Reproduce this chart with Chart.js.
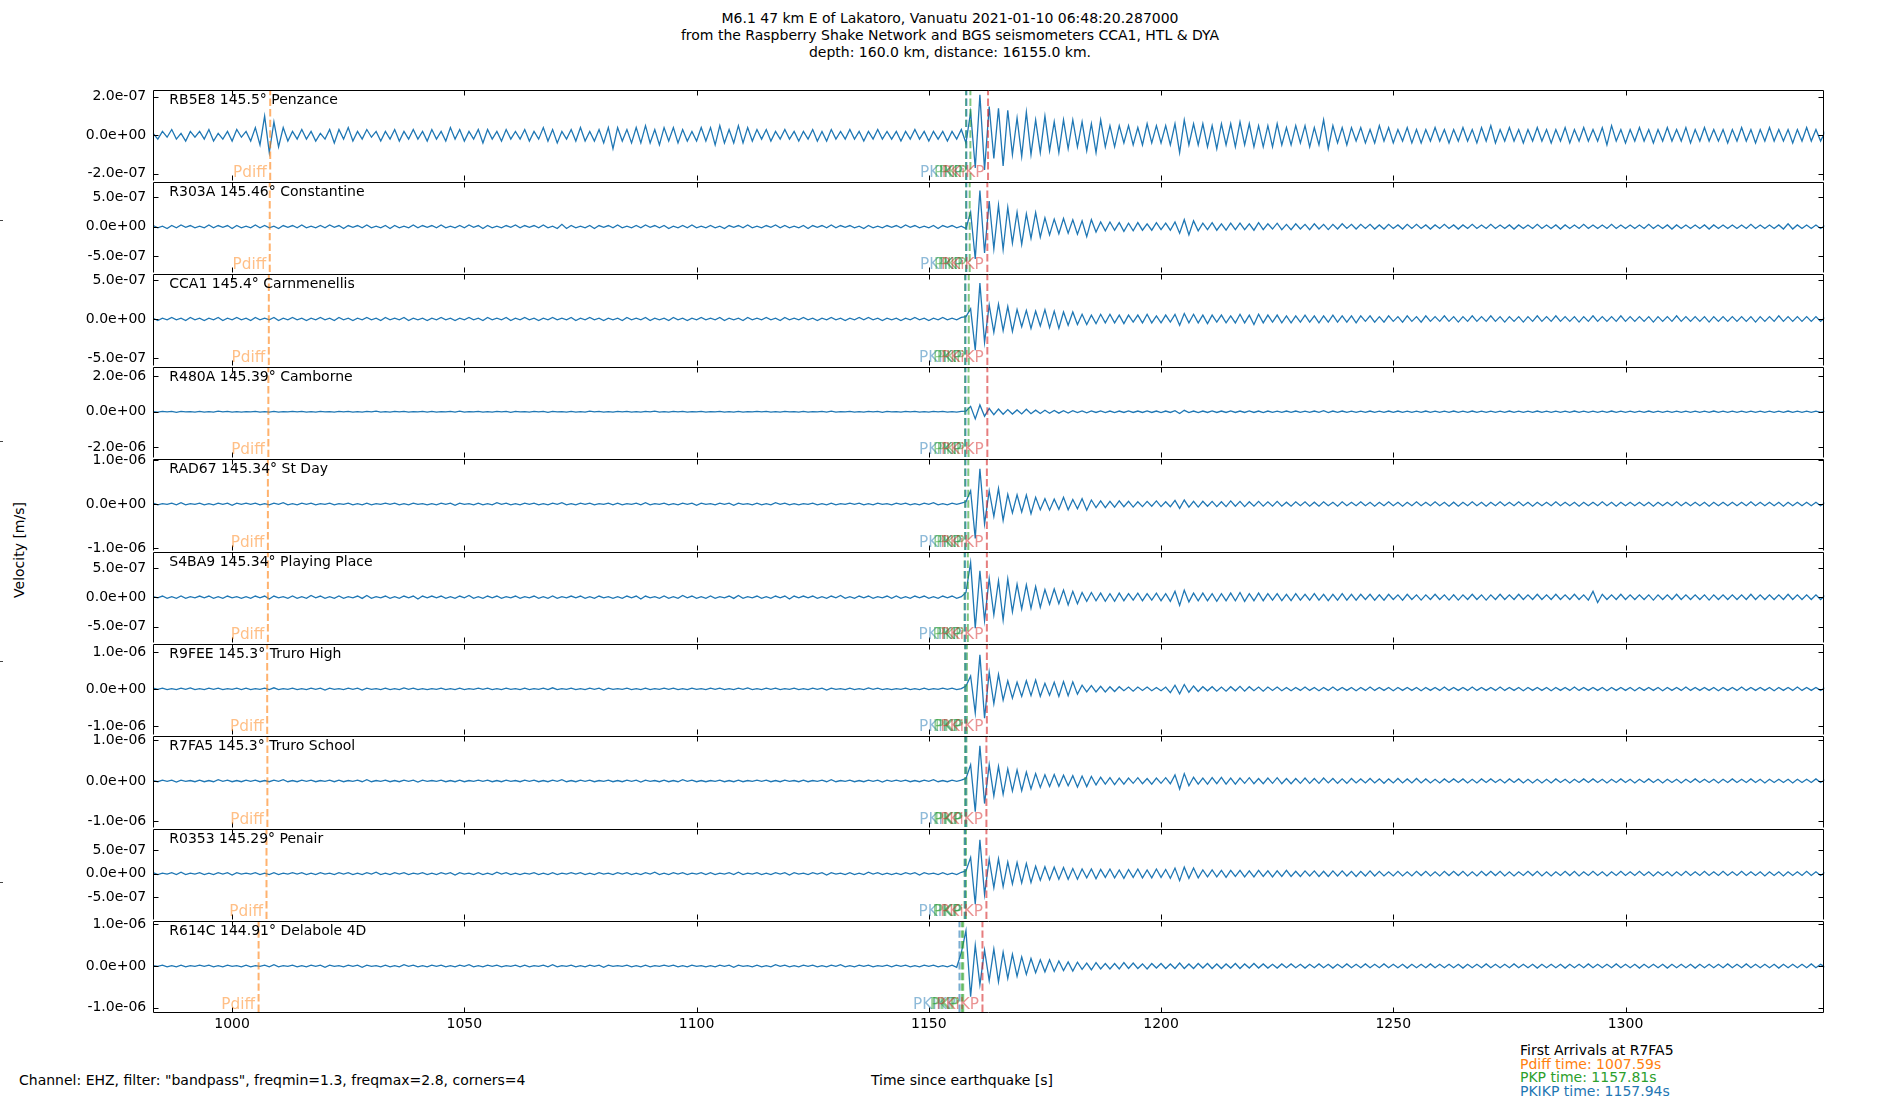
<!DOCTYPE html>
<html>
<head>
<meta charset="utf-8">
<title>Seismograms R7FA5 section</title>
<script src="https://cdn.jsdelivr.net/npm/chart.js@4.4.0/dist/chart.umd.min.js"></script>
<style>
  html, body { margin: 0; padding: 0; background: #fff; }
  body { width: 1900px; height: 1100px; position: relative; overflow: hidden;
         font-family: 'DejaVu Sans', sans-serif; font-size: 14px; color: #000; }
  .panel { position: absolute; left: 0; width: 1900px; }
  .txt { position: absolute; white-space: pre; line-height: 17px; }
  .mark { position: absolute; left: 0; width: 3px; height: 1px; background: #444; }
</style>
</head>
<body>
<div class="txt" style="left:0;width:1900px;top:10px;text-align:center;">M6.1 47 km E of Lakatoro, Vanuatu 2021-01-10 06:48:20.287000
from the Raspberry Shake Network and BGS seismometers CCA1, HTL &amp; DYA
depth: 160.0 km, distance: 16155.0 km.</div>
<div class="txt" style="left:19px;top:1072px;">Channel: EHZ, filter: "bandpass", freqmin=1.3, freqmax=2.8, corners=4</div>
<div class="txt" style="left:762px;width:400px;top:1072px;text-align:center;">Time since earthquake [s]</div>
<div class="txt" style="left:19px;top:550px;transform:translate(-50%,-50%) rotate(-90deg);">Velocity [m/s]</div>
<div id="arrivals" class="txt" style="left:1520px;top:1044px;line-height:13.7px;"></div>
<div class="mark" style="top:220px"></div>
<div class="mark" style="top:441px"></div>
<div class="mark" style="top:661px"></div>
<div class="mark" style="top:882px"></div>

<script>
// samples: 1 s apart from 983 s, values in units of 1e-8 m/s
const sampleStart = 983;
const sampleStep = 1;
const velUnit = 1e-8;

const stationLabels = [
    'RB5E8 145.5° Penzance', 'R303A 145.46° Constantine', 'CCA1 145.4° Carnmenellis',
    'R480A 145.39° Camborne', 'RAD67 145.34° St Day', 'S4BA9 145.34° Playing Place',
    'R9FEE 145.3° Truro High', 'R7FA5 145.3° Truro School', 'R0353 145.29° Penair',
    'R614C 144.91° Delabole 4D',
];

const velRB5E8 = [
    1,-2,2,-1,3,-2,1,-3,2,-1,2,-2,3,-3,1,-2,2,-3,3,-1,
    2,-3,4,-5,10,-9,7,-6,4,-3,2,-2,3,-2,2,-3,1,-2,3,-4,
    3,-2,4,-3,2,-2,3,-1,2,-3,2,-2,3,-3,2,-2,3,-2,2,-3,
    3,-2,2,-3,4,-2,3,-3,2,-2,3,-4,3,-2,2,-3,3,-2,2,-2,
    3,-3,2,-2,4,-3,3,-4,2,-2,3,-3,4,-3,2,-3,3,-4,4,-7,
    4,-3,3,-4,4,-4,5,-4,3,-5,4,-3,4,-4,3,-3,2,-3,4,-3,
    4,-5,5,-4,3,-4,5,-4,4,-3,3,-2,3,-3,2,-2,3,-2,2,-3,
    2,-2,3,-3,2,-3,3,-2,2,-2,3,-2,2,-3,2,-2,3,-2,2,-2,
    2,-3,2,-2,3,-2,2,-3,2,-2,2,-3,2,-2,3,-4,12,-17,21,-18,
    15,-12,14,-16,13,-10,9,-11,12,-10,8,-9,10,-8,7,-9,8,-7,8,-6,
    7,-8,6,-9,8,-6,5,-6,5,-4,5,-5,4,-5,6,-4,5,-4,5,-5,
    6,-9,8,-5,6,-5,6,-6,5,-7,6,-5,6,-6,7,-5,6,-6,5,-6,
    5,-6,6,-5,4,-5,5,-4,5,-6,4,-5,8,-7,5,-4,4,-5,4,-3,
    4,-4,3,-4,5,-3,4,-4,3,-3,4,-4,3,-4,3,-3,4,-3,3,-4,
    3,-3,4,-3,3,-4,4,-3,5,-4,3,-3,4,-3,3,-4,3,-3,4,-3,
    3,-4,3,-3,4,-4,3,-3,4,-3,3,-3,4,-5,5,-3,3,-4,3,-3,
    4,-3,3,-4,3,-3,4,-3,3,-3,4,-4,3,-3,4,-3,3,-3,3,-4,
    3,-3,4,-3,3,-4,3,-3,4,-3,3,-3,3,-4,3,-3,4,-3,3,-3,
    2,
];
const velR303A = [
    2,-2,1,-3,2,-2,3,-1,2,-2,1,-2,3,-2,2,-1,2,-3,2,-2,
    1,-2,3,-2,2,-2,1,-3,2,-1,2,-2,3,-2,1,-2,2,-2,3,-1,
    2,-3,2,-1,2,-2,3,-2,1,-2,2,-3,2,-2,1,-2,3,-2,2,-1,
    2,-2,3,-2,1,-2,2,-2,3,-1,2,-3,2,-2,1,-2,2,-1,3,-2,
    2,-1,2,-2,3,-2,1,-3,4,-3,2,-2,1,-2,2,-3,2,-1,2,-2,
    3,-2,1,-2,2,-2,3,-1,2,-2,2,-3,1,-2,2,-2,3,-2,1,-2,
    2,-2,1,-3,2,-1,2,-2,3,-2,1,-2,2,-1,3,-2,2,-2,1,-2,
    2,-3,2,-1,2,-2,3,-2,2,-1,2,-2,1,-3,2,-2,1,-2,2,-1,
    2,-2,3,-1,2,-2,1,-2,2,-3,2,-1,2,-2,1,-3,25,-55,62,-45,
    44,-38,37,-39,33,-28,25,-30,22,-20,24,-18,15,-14,13,-12,14,-11,12,-13,
    10,-17,12,-9,8,-7,8,-6,7,-8,6,-7,7,-6,5,-6,7,-5,6,-6,
    8,-11,12,-14,10,-7,6,-5,7,-6,5,-6,6,-5,6,-5,5,-6,7,-5,
    5,-4,6,-5,4,-5,5,-4,4,-5,5,-4,4,-5,4,-4,5,-3,4,-4,
    4,-3,4,-4,3,-4,4,-3,3,-4,4,-3,4,-3,3,-4,3,-3,4,-3,
    3,-4,3,-3,4,-3,3,-3,4,-3,3,-3,3,-4,3,-3,3,-3,4,-3,
    3,-3,3,-4,3,-3,3,-3,4,-3,3,-3,3,-3,4,-3,3,-3,3,-3,
    3,-3,4,-3,3,-3,3,-4,3,-3,3,-3,3,-3,3,-4,3,-3,3,-3,
    3,-3,3,-3,4,-3,3,-3,3,-3,3,-4,5,-4,3,-3,3,-3,3,-3,
    2,
];
const velCCA1 = [
    1,-2,1,-1,2,-1,1,-2,2,-1,1,-2,1,-1,2,-2,1,-1,2,-1,
    1,-2,2,-1,1,-1,2,-2,1,-1,2,-1,1,-2,1,-1,2,-1,1,-2,
    2,-1,1,-2,1,-1,2,-1,1,-2,2,-1,1,-1,2,-2,1,-1,1,-2,
    1,-1,2,-1,1,-2,1,-1,2,-1,1,-2,2,-1,1,-1,2,-2,1,-1,
    2,-1,1,-2,1,-1,2,-1,1,-1,2,-2,1,-1,2,-1,1,-2,1,-1,
    1,-2,2,-1,1,-1,2,-2,1,-1,1,-2,2,-1,1,-2,1,-1,2,-1,
    1,-1,2,-2,1,-1,1,-2,2,-1,1,-1,2,-1,1,-2,2,-1,1,-1,
    2,-1,1,-2,1,-1,2,-1,1,-2,1,-1,2,-1,2,-1,1,-2,1,-1,
    1,-2,1,-1,2,-1,1,-2,1,-1,2,-1,1,-1,2,3,13,-40,46,-30,
    18,-17,19,-15,16,-16,12,-10,11,-12,10,-9,12,-11,10,-12,9,-8,9,-7,
    6,-7,5,-6,6,-5,6,-5,5,-6,5,-4,5,-5,6,-5,4,-5,5,-4,
    6,-8,7,-5,6,-5,5,-6,5,-4,5,-5,4,-5,6,-5,5,-7,6,-5,
    5,-4,5,-5,4,-5,4,-4,5,-4,4,-5,4,-4,5,-4,4,-4,4,-5,
    4,-3,4,-4,3,-4,4,-3,3,-4,4,-3,3,-4,4,-3,3,-3,4,-3,
    3,-4,3,-3,4,-3,3,-3,4,-3,3,-4,3,-3,3,-4,3,-3,4,-3,
    3,-3,4,-3,3,-3,3,-4,3,-3,4,-3,3,-3,3,-3,4,-3,3,-3,
    3,-3,3,-4,3,-3,3,-3,4,-3,3,-3,3,-3,3,-4,3,-3,3,-3,
    3,-3,3,-3,3,-4,3,-3,3,-3,4,-3,3,-3,3,-3,3,-3,3,-3,
    2,
];
const velR480A = [
    1,-2,2,-1,2,-3,2,-1,1,-2,2,-2,1,-2,3,-1,2,-2,1,-2,
    1,-1,2,-2,1,-2,2,-2,1,-1,2,-1,2,-2,1,-2,2,-1,1,-2,
    2,-1,2,-2,1,-2,2,-1,3,-2,1,-2,2,-1,2,-2,1,-1,2,-2,
    2,-2,1,-1,2,-2,3,-2,1,-1,2,-2,1,-2,2,-1,2,-3,2,-1,
    1,-2,2,-1,2,-3,2,-1,1,-2,2,-2,1,-2,3,-1,2,-2,1,-2,
    2,-1,2,-2,1,-2,2,-1,3,-2,1,-2,2,-1,2,-2,1,-1,2,-2,
    1,-1,2,-2,1,-2,2,-2,1,-1,2,-1,2,-2,1,-2,2,-1,1,-2,
    2,-2,1,-1,2,-2,3,-2,1,-1,2,-2,1,-2,2,-1,2,-3,2,-1,
    1,-2,2,-1,2,-2,1,-2,2,-1,2,-2,1,-2,2,3,30,-40,38,-25,
    18,-16,15,-14,12,-13,10,-12,14,-11,9,-10,8,-9,7,-8,6,-7,6,-5,
    5,-6,5,-4,5,-5,4,-5,4,-4,5,-4,4,-4,5,-4,4,-5,4,-4,
    6,-10,8,-5,4,-5,4,-4,5,-4,4,-4,5,-4,4,-4,5,-4,4,-5,
    4,-4,3,-4,4,-3,4,-4,3,-4,4,-3,6,-5,4,-3,4,-4,3,-4,
    3,-4,4,-3,3,-4,4,-3,4,-3,3,-4,3,-3,4,-3,3,-4,3,-3,
    4,-3,3,-3,4,-3,3,-4,3,-3,3,-3,4,-3,3,-3,3,-3,4,-3,
    3,-3,3,-4,3,-3,4,-3,3,-3,3,-3,3,-3,4,-3,3,-3,3,-4,
    3,-3,4,-3,3,-3,3,-3,3,-4,3,-3,3,-3,3,-3,4,-3,3,-3,
    3,-3,3,-3,3,-4,3,-3,3,-3,3,-3,4,-3,3,-3,3,-3,3,-3,
    2,
];
const velRAD67 = [
    2,-2,1,-1,2,-2,3,-2,1,-1,2,-2,1,-2,2,-1,2,-3,2,-1,
    2,-1,2,-2,1,-2,2,-1,3,-2,1,-2,2,-1,2,-2,1,-1,2,-2,
    1,-1,2,-2,1,-2,2,-2,1,-1,2,-1,2,-2,1,-2,2,-1,1,-2,
    1,-2,2,-1,2,-3,2,-1,1,-2,2,-2,1,-2,3,-1,2,-2,1,-2,
    2,-1,2,-2,1,-2,2,-1,3,-2,1,-2,2,-1,2,-2,1,-1,2,-2,
    2,-2,1,-1,2,-2,3,-2,1,-1,2,-2,1,-2,2,-1,2,-3,2,-1,
    1,-2,2,-1,2,-3,2,-1,1,-2,2,-2,1,-2,3,-1,2,-2,1,-2,
    1,-1,2,-2,1,-2,2,-2,1,-1,2,-1,2,-2,1,-2,2,-1,1,-2,
    2,-1,2,-2,1,-2,2,-1,3,-2,1,-2,2,-1,2,5,30,-78,80,-45,
    30,-28,35,-37,22,-20,21,-18,20,-22,15,-13,12,-14,11,-12,15,-13,10,-11,
    12,-14,9,-8,7,-8,6,-7,7,-6,6,-7,5,-6,6,-5,7,-6,5,-6,
    8,-10,9,-7,6,-7,6,-5,6,-6,5,-6,7,-5,6,-6,5,-5,6,-5,
    5,-5,6,-5,4,-5,5,-4,5,-5,4,-5,5,-4,4,-5,5,-4,4,-4,
    5,-4,4,-5,4,-4,5,-4,4,-5,4,-4,5,-4,4,-4,5,-4,4,-5,
    4,-5,4,-4,5,-4,4,-5,4,-4,5,-4,4,-4,5,-4,4,-5,4,-4,
    4,-4,5,-4,4,-4,4,-5,4,-4,4,-4,5,-4,4,-5,4,-4,4,-4,
    4,-4,4,-5,4,-4,4,-4,5,-4,4,-4,4,-4,4,-5,4,-4,4,-4,
    4,-4,4,-4,5,-4,4,-4,4,-4,4,-5,4,-4,4,-4,4,-4,4,-4,
    3,
];
const velS4BA9 = [
    1,-1,2,-2,1,-2,2,-2,1,-1,2,-1,2,-2,1,-2,2,-1,1,-2,
    1,-2,2,-1,2,-3,2,-1,1,-2,2,-2,1,-2,3,-1,2,-2,1,-2,
    2,-2,1,-1,2,-2,3,-2,1,-1,2,-2,1,-2,2,-1,2,-3,2,-1,
    2,-1,2,-2,1,-2,2,-1,3,-2,1,-2,2,-1,2,-2,1,-1,2,-2,
    1,-1,2,-2,1,-2,2,-2,1,-1,2,-1,2,-2,1,-2,2,-1,1,-2,
    1,-2,2,-1,2,-3,2,-1,1,-2,2,-2,1,-2,3,-1,2,-2,1,-2,
    2,-2,1,-1,2,-2,3,-2,1,-1,2,-2,1,-2,2,-1,2,-3,2,-1,
    2,-1,2,-2,1,-2,2,-1,3,-2,1,-2,2,-1,2,-2,1,-1,2,-2,
    2,-2,1,-2,2,-1,2,-2,1,-2,2,-1,2,-2,1,8,59,-53,45,-40,
    32,-30,28,-39,31,-25,22,-20,21,-19,18,-17,13,-12,14,-11,12,-13,10,-11,
    8,-7,8,-6,7,-7,6,-7,7,-6,6,-5,7,-6,6,-5,7,-6,6,-7,
    10,-14,12,-8,7,-6,7,-6,6,-7,6,-6,7,-6,8,-7,6,-6,7,-6,
    6,-5,6,-6,5,-6,6,-5,5,-5,6,-5,5,-6,5,-5,6,-5,5,-5,
    5,-4,5,-5,4,-5,5,-4,4,-5,5,-4,4,-5,4,-4,5,-4,4,-5,
    4,-5,4,-4,5,-4,4,-5,4,-4,5,-4,4,-4,5,-4,4,-4,5,-4,
    4,-4,5,-4,4,-4,5,-4,4,-5,10,-9,5,-4,4,-4,5,-4,4,-4,
    4,-4,4,-5,4,-4,4,-4,5,-4,4,-4,4,-4,4,-5,4,-4,4,-4,
    4,-4,4,-4,5,-4,4,-4,4,-4,4,-4,5,-4,4,-4,4,-4,4,-4,
    3,
];
const velR9FEE = [
    2,-1,2,-2,1,-2,2,-1,3,-2,1,-2,2,-1,2,-2,1,-1,2,-2,
    2,-2,1,-1,2,-2,3,-2,1,-1,2,-2,1,-2,2,-1,2,-3,2,-1,
    1,-2,2,-1,2,-3,2,-1,1,-2,2,-2,1,-2,3,-1,2,-2,1,-2,
    1,-1,2,-2,1,-2,2,-2,1,-1,2,-1,2,-2,1,-2,2,-1,1,-2,
    2,-2,1,-1,2,-2,3,-2,1,-1,2,-2,1,-2,2,-1,2,-3,2,-1,
    1,-1,2,-2,1,-2,2,-2,1,-1,2,-1,2,-2,1,-2,2,-1,1,-2,
    2,-1,2,-2,1,-2,2,-1,3,-2,1,-2,2,-1,2,-2,1,-1,2,-2,
    1,-2,2,-1,2,-3,2,-1,1,-2,2,-2,1,-2,3,-1,2,-2,1,-2,
    1,-1,2,-2,1,-2,2,-2,1,-1,2,-1,2,-2,1,8,35,-65,92,-79,
    45,-40,39,-30,22,-25,18,-20,22,-18,24,-20,15,-17,18,-20,20,-18,19,-14,
    10,-8,9,-8,7,-8,6,-7,6,-5,5,-6,5,-4,5,-5,4,-5,5,-10,
    10,-13,12,-9,8,-7,6,-5,6,-6,5,-6,6,-5,7,-6,6,-5,5,-6,
    5,-4,5,-5,4,-5,4,-4,5,-4,4,-5,4,-4,5,-4,4,-4,4,-5,
    4,-4,5,-4,4,-4,4,-5,4,-4,4,-4,4,-5,4,-4,4,-4,5,-4,
    4,-4,4,-4,5,-4,4,-4,4,-4,5,-4,4,-4,4,-5,4,-4,4,-4,
    4,-5,4,-4,4,-4,5,-4,4,-4,4,-4,4,-5,4,-4,4,-4,4,-5,
    4,-4,4,-4,4,-5,4,-4,4,-4,5,-4,4,-4,4,-4,4,-5,4,-4,
    4,-4,5,-4,4,-4,4,-4,4,-5,4,-4,4,-4,5,-4,4,-4,4,-4,
    3,
];
const velR7FA5 = [
    1,-2,2,-1,2,-3,2,-1,1,-2,2,-2,1,-2,3,-1,2,-2,1,-2,
    2,-1,2,-2,1,-2,2,-1,3,-2,1,-2,2,-1,2,-2,1,-1,2,-2,
    2,-2,1,-1,2,-2,3,-2,1,-1,2,-2,1,-2,2,-1,2,-3,2,-1,
    1,-1,2,-2,1,-2,2,-2,1,-1,2,-1,2,-2,1,-2,2,-1,1,-2,
    2,-1,2,-2,1,-2,2,-1,3,-2,1,-2,2,-1,2,-2,1,-1,2,-2,
    1,-2,2,-1,2,-3,2,-1,1,-2,2,-2,1,-2,3,-1,2,-2,1,-2,
    1,-1,2,-2,1,-2,2,-2,1,-1,2,-1,2,-2,1,-2,2,-1,1,-2,
    2,-2,1,-1,2,-2,3,-2,1,-1,2,-2,1,-2,2,-1,2,-3,2,-1,
    2,-1,2,-2,1,-2,2,-1,3,-2,1,-2,2,-1,2,6,40,-76,87,-56,
    40,-37,36,-33,30,-25,27,-24,22,-20,18,-16,15,-14,16,-13,14,-12,13,-15,
    12,-14,11,-10,9,-8,8,-9,7,-8,7,-6,8,-7,6,-8,7,-6,8,-7,
    15,-20,18,-12,9,-8,7,-8,8,-7,9,-8,7,-8,7,-6,8,-7,6,-7,
    7,-6,8,-7,6,-7,6,-6,7,-6,6,-6,7,-5,6,-6,5,-6,6,-5,
    5,-5,6,-5,5,-6,5,-5,6,-5,5,-5,6,-5,5,-5,4,-5,5,-4,
    5,-4,5,-5,4,-5,5,-4,5,-4,4,-5,5,-4,5,-5,4,-5,4,-5,
    4,-5,5,-4,4,-5,4,-4,5,-4,5,-4,4,-5,4,-4,5,-4,4,-5,
    4,-4,5,-4,4,-5,4,-4,4,-5,4,-4,5,-4,4,-4,4,-5,4,-4,
    5,-4,4,-4,5,-4,4,-5,4,-4,4,-4,4,-5,4,-4,4,-4,5,-4,
    3,
];
const velR0353 = [
    2,-2,1,-1,2,-2,3,-2,1,-1,2,-2,1,-2,2,-1,2,-3,2,-1,
    1,-1,2,-2,1,-2,2,-2,1,-1,2,-1,2,-2,1,-2,2,-1,1,-2,
    2,-1,2,-2,1,-2,2,-1,3,-2,1,-2,2,-1,2,-2,1,-1,2,-2,
    1,-2,2,-1,2,-3,2,-1,1,-2,2,-2,1,-2,3,-1,2,-2,1,-2,
    1,-1,2,-2,1,-2,2,-2,1,-1,2,-1,2,-2,1,-2,2,-1,1,-2,
    2,-1,2,-2,1,-2,2,-1,3,-2,1,-2,2,-1,2,-2,1,-1,2,-2,
    2,-2,1,-1,2,-2,3,-2,1,-1,2,-2,1,-2,2,-1,2,-3,2,-1,
    1,-2,2,-1,2,-3,2,-1,1,-2,2,-2,1,-2,3,-1,2,-2,1,-2,
    1,-2,2,-1,2,-3,2,-1,1,-2,2,-2,1,-2,3,6,35,-66,73,-45,
    31,-30,32,-28,25,-22,24,-20,22,-19,16,-14,15,-13,14,-12,13,-12,11,-12,
    10,-9,10,-11,9,-8,10,-9,8,-10,9,-8,10,-9,8,-9,10,-8,9,-10,
    12,-15,14,-10,12,-9,8,-7,8,-7,7,-8,7,-6,7,-7,6,-7,7,-6,
    6,-7,6,-6,7,-6,5,-6,6,-5,6,-6,5,-6,6,-5,6,-5,5,-6,
    5,-5,6,-5,5,-5,4,-5,5,-5,4,-5,5,-4,5,-5,4,-5,5,-4,
    5,-4,5,-5,4,-5,5,-4,5,-4,5,-5,4,-5,4,-4,5,-4,5,-5,
    4,-5,4,-4,5,-4,5,-5,4,-4,5,-4,4,-5,4,-4,5,-4,4,-4,
    5,-4,4,-5,4,-4,4,-5,4,-4,5,-4,4,-4,5,-4,4,-4,5,-4,
    4,-4,5,-4,4,-4,4,-5,4,-4,4,-5,4,-4,4,-4,5,-4,4,-4,
    3,
];
const velR614C = [
    1,-1,2,-2,1,-2,2,-2,1,-1,2,-1,2,-2,1,-2,2,-1,1,-2,
    2,-2,1,-1,2,-2,3,-2,1,-1,2,-2,1,-2,2,-1,2,-3,2,-1,
    1,-2,2,-1,2,-3,2,-1,1,-2,2,-2,1,-2,3,-1,2,-2,1,-2,
    2,-1,2,-2,1,-2,2,-1,3,-2,1,-2,2,-1,2,-2,1,-1,2,-2,
    2,-2,1,-1,2,-2,3,-2,1,-1,2,-2,1,-2,2,-1,2,-3,2,-1,
    1,-1,2,-2,1,-2,2,-2,1,-1,2,-1,2,-2,1,-2,2,-1,1,-2,
    1,-2,2,-1,2,-3,2,-1,1,-2,2,-2,1,-2,3,-1,2,-2,1,-2,
    2,-1,2,-2,1,-2,2,-1,3,-2,1,-2,2,-1,2,-2,1,-1,2,-2,
    2,-1,2,-2,1,-2,2,-1,2,-2,1,-2,2,-3,32,85,-74,50,-45,38,
    -35,41,-38,33,-30,28,-25,22,-20,18,-16,15,-14,15,-13,12,-11,10,-12,9,
    -8,7,-9,8,-7,6,-7,6,-7,8,-6,7,-6,5,-7,6,-5,6,-6,5,
    -6,7,-6,5,-6,6,-5,6,-6,5,-6,5,-5,6,-6,5,-5,6,-5,5,
    -5,4,-5,5,-4,5,-4,4,-5,4,-4,5,-4,4,-5,4,-4,5,-4,4,
    -4,5,-4,4,-4,5,-4,4,-4,4,-5,4,-4,4,-4,5,-4,4,-4,4,
    -4,4,-5,4,-4,4,-4,5,-4,4,-4,4,-4,5,-4,4,-4,4,-5,4,
    -4,4,-4,4,-5,4,-4,4,-4,5,-4,4,-4,4,-4,5,-4,4,-4,4,
    -5,4,-4,4,-4,4,-5,4,-4,4,-4,4,-5,4,-4,4,-4,4,-4,5,
    -4,4,-4,5,-4,4,-4,4,-4,4,-5,4,-4,4,-4,4,-4,5,-4,4,
    -3,
];

const traceValues = [velRB5E8, velR303A, velCCA1, velR480A, velRAD67,
    velS4BA9, velR9FEE, velR7FA5, velR0353, velR614C];

// axis limits and ticks (m/s)
const yMinValues = [-2.33e-7, -7.77e-7, -5.91e-7, -2.54e-6, -1.045e-6, -7.65e-7, -1.22e-6, -1.142e-6, -9.79e-7, -1.106e-6];
const yMaxValues = [2.36e-7, 7.67e-7, 5.78e-7, 2.51e-6, 1.022e-6, 7.72e-7, 1.216e-6, 1.113e-6, 9.64e-7, 1.084e-6];
const yTickSteps = [2e-7, 5e-7, 5e-7, 2e-6, 1e-6, 5e-7, 1e-6, 1e-6, 5e-7, 1e-6];
const xTickValues = [1000, 1050, 1100, 1150, 1200, 1250, 1300];
const xMin = 982.9;
const xMax = 1342.8;

// phase arrival times per station (s)
const pdiffTimes = [1008.2, 1008.1, 1007.9, 1007.8, 1007.7, 1007.7, 1007.55, 1007.59, 1007.4, 1005.7];
const pkikpTimes = [1158.1, 1158.1, 1157.9, 1157.9, 1157.9, 1157.8, 1157.9, 1157.94, 1157.8, 1156.6];
const pkpTimes = [1158.0, 1158.0, 1157.8, 1157.8, 1157.8, 1157.7, 1157.8, 1157.81, 1157.7, 1157.1];
const pkpLateTimes = [1158.95, 1158.8, 1158.6, 1158.55, 1158.5, 1158.4, 1158.2, 1158.1, 1158.0, 1157.4];
const pkiKPTimes = [1162.75, 1162.6, 1162.6, 1162.6, 1162.5, 1162.5, 1162.5, 1162.4, 1162.4, 1161.55];
const firstArrivalStation = 7;

const plotLeft = 152.7;
const plotRight = 1824.3;
const plotTop = 88.7;
const panelHeight = 92.36;
const padV = 14;
const xAxisHeight = 40;

const phaseStyles = {
    Pdiff: { line: 'rgba(255,127,14,0.6)', text: 'rgba(255,127,14,0.5)' },
    PKIKP: { line: 'rgba(31,119,180,0.6)', text: 'rgba(31,119,180,0.5)' },
    PKP: { line: 'rgba(44,160,44,0.6)', text: 'rgba(44,160,44,0.5)' },
    PKiKP: { line: 'rgba(214,39,40,0.6)', text: 'rgba(214,39,40,0.5)' },
};

Chart.defaults.font.family = "'DejaVu Sans', sans-serif";
Chart.defaults.font.size = 14;
Chart.defaults.color = '#000';

function sciLabel(v) {
    const [m, e] = Number(v).toExponential(1).split('e');
    const n = Math.abs(parseInt(e, 10));
    return m + 'e' + (e[0] === '-' ? '-' : '+') + String(n).padStart(2, '0');
}

function phasesFor(i) {
    return [
        ['Pdiff', pdiffTimes[i]],
        ['PKIKP', pkikpTimes[i]],
        ['PKP', pkpTimes[i]],
        ['PKP', pkpLateTimes[i]],
        ['PKiKP', pkiKPTimes[i]],
    ];
}

// snap a coordinate to the centre of a device pixel so 1px lines stay crisp
const crisp = (v) => Math.round(v) + 0.5;

const panelDecor = {
    id: 'panelDecor',
    afterDatasetsDraw(chart, args, opts) {
        const { ctx, chartArea: a, scales } = chart;
        const i = opts.index;
        const l = crisp(a.left), r = crisp(a.right) - 1, t = crisp(a.top), b = crisp(a.bottom);
        ctx.save();
        ctx.strokeStyle = '#000';
        ctx.lineWidth = 1;

        // the panel below draws the shared separator, so only the last panel closes its bottom
        ctx.beginPath();
        ctx.moveTo(l, b);
        ctx.lineTo(l, t);
        ctx.lineTo(r, t);
        ctx.lineTo(r, b);
        if (opts.last) {
            ctx.lineTo(l, b);
        }
        xTickValues.forEach((v) => {
            const px = crisp(scales.x.getPixelForValue(v));
            ctx.moveTo(px, t);
            ctx.lineTo(px, t + 5);
            ctx.moveTo(px, b);
            ctx.lineTo(px, b - 5);
        });
        scales.y.ticks.forEach((tk) => {
            const py = crisp(scales.y.getPixelForValue(tk.value));
            ctx.moveTo(l, py);
            ctx.lineTo(l + 5, py);
            ctx.moveTo(r, py);
            ctx.lineTo(r - 5, py);
        });
        ctx.stroke();

        ctx.fillStyle = '#000';
        ctx.font = "14px 'DejaVu Sans'";
        ctx.textAlign = 'left';
        ctx.textBaseline = 'alphabetic';
        ctx.fillText(stationLabels[i], a.left + 16.6, a.top + 14);

        ctx.font = "15.3px 'DejaVu Sans'";
        ctx.textAlign = 'right';
        phasesFor(i).forEach(([name, time]) => {
            ctx.fillStyle = phaseStyles[name].text;
            ctx.fillText(name, scales.x.getPixelForValue(time) - 3.5, a.bottom - 3);
        });
        ctx.restore();
    },
};

const edge = (k) => Math.round(plotTop + k * panelHeight);

traceValues.forEach((values, i) => {
    const isLast = i === traceValues.length - 1;
    const h = edge(i + 1) - edge(i);
    const box = document.createElement('div');
    box.className = 'panel';
    box.style.top = (edge(i) - padV) + 'px';
    box.style.height = (h + padV + (isLast ? xAxisHeight : padV)) + 'px';
    const canvas = document.createElement('canvas');
    box.appendChild(canvas);
    document.body.appendChild(box);

    const yMin = yMinValues[i];
    const yMax = yMaxValues[i];
    const step = yTickSteps[i];

    const phaseSets = phasesFor(i).map(([name, t]) => ({
        data: [{ x: t, y: yMin }, { x: t, y: yMax }],
        borderColor: phaseStyles[name].line,
        borderWidth: 2,
        borderDash: [7.4, 3.2],
        pointRadius: 0,
        order: 1,
    }));

    const xScale = {
        type: 'linear',
        min: xMin,
        max: xMax,
        display: isLast,
        afterBuildTicks: (s) => { s.ticks = xTickValues.map((v) => ({ value: v })); },
        grid: { display: false, drawTicks: false },
        border: { display: false },
        ticks: { padding: 4, maxRotation: 0, autoSkip: false, callback: (v) => String(v) },
    };
    if (isLast) {
        xScale.afterFit = (s) => { s.height = xAxisHeight; };
    }

    new Chart(canvas, {
        type: 'line',
        data: {
            datasets: [
                {
                    label: stationLabels[i],
                    data: values.map((v, k) => ({ x: sampleStart + k * sampleStep, y: v * velUnit })),
                    borderColor: '#1f77b4',
                    borderWidth: 1.3,
                    pointRadius: 0,
                    tension: 0,
                    order: 2,
                },
                ...phaseSets,
            ],
        },
        options: {
            responsive: true,
            maintainAspectRatio: false,
            animation: false,
            events: [],
            layout: {
                padding: { left: 0, right: 1900 - plotRight, top: padV, bottom: isLast ? 0 : padV },
            },
            scales: {
                x: xScale,
                y: {
                    type: 'linear',
                    min: yMin,
                    max: yMax,
                    afterBuildTicks: (s) => { s.ticks = [-step, 0, step].map((v) => ({ value: v })); },
                    afterFit: (s) => { s.width = plotLeft; },
                    grid: { display: false, drawTicks: false },
                    border: { display: false },
                    ticks: { padding: 6.5, autoSkip: false, callback: (v) => sciLabel(v) },
                },
            },
            plugins: {
                legend: { display: false },
                tooltip: { enabled: false },
                panelDecor: { index: i, last: isLast },
            },
        },
        plugins: [panelDecor],
    });
});

document.getElementById('arrivals').innerHTML =
    '<span style="color:#000">First Arrivals at ' + stationLabels[firstArrivalStation].split(' ')[0] + '</span>\n' +
    '<span style="color:#ff7f0e">Pdiff time: ' + pdiffTimes[firstArrivalStation].toFixed(2) + 's</span>\n' +
    '<span style="color:#2ca02c">PKP time: ' + pkpTimes[firstArrivalStation].toFixed(2) + 's</span>\n' +
    '<span style="color:#1f77b4">PKIKP time: ' + pkikpTimes[firstArrivalStation].toFixed(2) + 's</span>';
</script>
</body>
</html>
